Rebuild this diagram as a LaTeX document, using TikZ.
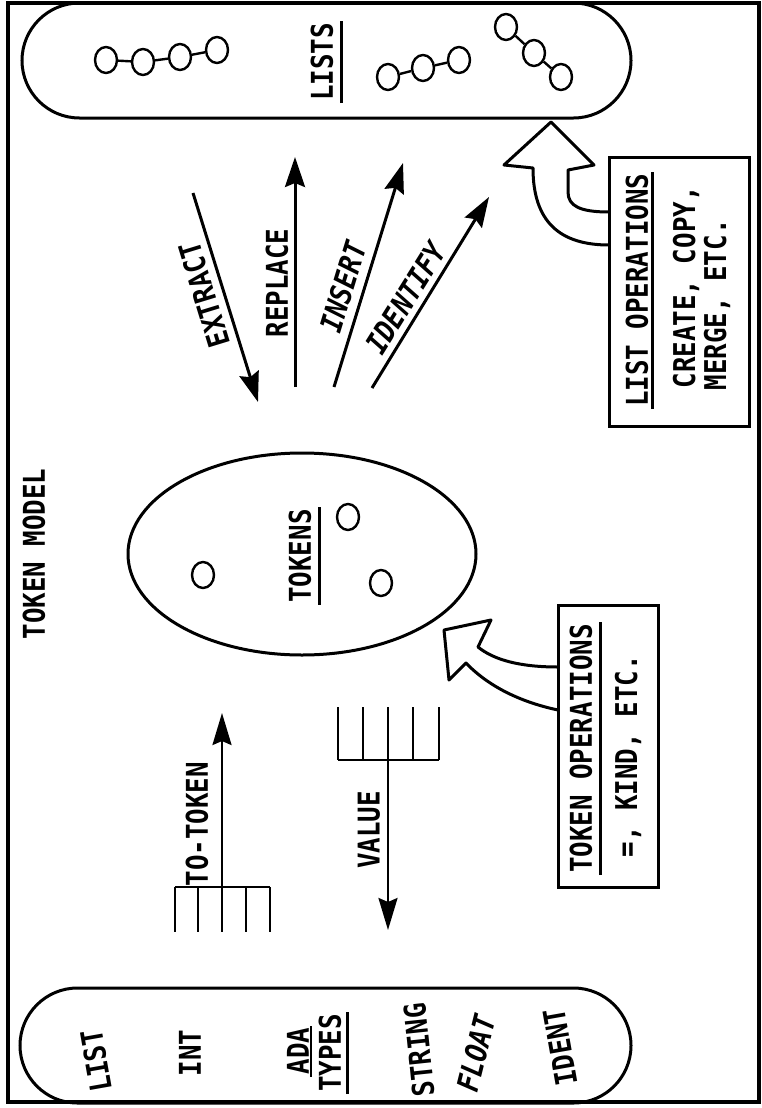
\documentclass[tikz,border=0pt]{standalone}
\usepackage{fontspec}
\usetikzlibrary{arrows.meta,shapes.geometric,shapes.misc}
\newfontfamily\letterfont{DejaVu Sans Mono}[FakeStretch=0.86]
\newcommand{\lettering}{\letterfont\bfseries\fontsize{30}{34}\selectfont}
\tikzset{
  frame/.style={draw=black, line width=3.4pt},
  pill/.style={draw=black, rounded rectangle, line width=3pt, inner sep=0pt},
  pool/.style={draw=black, ellipse, line width=3pt, inner sep=0pt},
  opsbox/.style={draw=black, line width=3pt, inner sep=0pt},
  bead/.style={draw=black, ellipse, line width=2.4pt, minimum width=22pt,
    minimum height=26pt, inner sep=0pt},
  link/.style={line width=2.4pt},
  lbl/.style={font=\lettering, inner sep=0.5pt, rotate=#1},
  lbl/.default=90,
  heading/.style={lbl, inner xsep=2pt, inner ysep=8pt},
  uline/.style={line width=2.6pt},
  opsarrow/.style={-{Stealth[length=30pt,width=20pt,inset=4pt]}, line width=3pt},
  convarrow/.style={-{Stealth[length=32pt,width=19pt,inset=4pt]}, line width=2.5pt},
  comb/.style={line width=2.6pt},
  hollow/.style={draw=black, fill=white, line width=3pt, line join=round}
}
\begin{document}
\begin{tikzpicture}[x=1pt,y=-1pt]
  \useasboundingbox (0,0) rectangle (762,1108);
  \draw[frame] (8,3) rectangle (759,1102);
  \node[lbl] (modeltitle) at (34,554) {TOKEN MODEL};

  % lists
  \node[pill, minimum width=609pt, minimum height=115pt] (lists) at (326.5,60.5) {};
  \node[bead] (la1) at (106,60) {};
  \node[bead] (la2) at (143,62) {};
  \node[bead] (la3) at (180,57) {};
  \node[bead] (la4) at (217,50) {};
  \draw[link] (la1) -- (la2) -- (la3) -- (la4);
  \node[bead] (lb1) at (388,77) {};
  \node[bead] (lb2) at (423,68) {};
  \node[bead] (lb3) at (459,60) {};
  \draw[link] (lb1) -- (lb2) -- (lb3);
  \node[bead] (lc1) at (506,27) {};
  \node[bead] (lc2) at (534,53) {};
  \node[bead] (lc3) at (561,77) {};
  \draw[link] (lc1) -- (lc2) -- (lc3);
  \node[heading] (liststitle) at (322,62) {LISTS};
  \draw[uline] (liststitle.south west) -- (liststitle.south east);

  % tokens
  \node[pool, minimum width=348pt, minimum height=202pt] (tokenpool) at (302,554) {};
  \node[bead] (tk1) at (203,575) {};
  \node[bead] (tk2) at (348,517) {};
  \node[bead] (tk3) at (381,583) {};
  \node[heading] (tokenstitle) at (300,556) {TOKENS};
  \draw[uline] (tokenstitle.south west) -- (tokenstitle.south east);

  % list access
  \coordinate (extract-a) at (193,193);
  \coordinate (extract-b) at (258,402);
  \coordinate (replace-a) at (295,387);
  \coordinate (replace-b) at (295,157);
  \coordinate (insert-a) at (334,387);
  \coordinate (insert-b) at (403,163);
  \coordinate (identify-a) at (372,388);
  \coordinate (identify-b) at (489,197);
  \draw[opsarrow] (extract-a) -- (extract-b);
  \draw[opsarrow] (replace-a) -- (replace-b);
  \draw[opsarrow] (insert-a) -- (insert-b);
  \draw[opsarrow] (identify-a) -- (identify-b);
  \node[lbl=107] (extractlbl) at (204,295) {EXTRACT};
  \node[lbl] (replacelbl) at (277,283) {REPLACE};
  \node[lbl=73] (insertlbl) at (343,287) {\itshape INSERT};
  \node[lbl=58] (identifylbl) at (406,298) {\itshape IDENTIFY};

  % list operations
  \draw[hollow] (609,245) .. controls (560,245) and (533,222) .. (533,168)
    -- (504,165) -- (551,122) -- (594,165) -- (568,170) -- (568,192)
    .. controls (568,206) and (580,212) .. (609,212);
  \node[opsbox, minimum width=140pt, minimum height=269pt] (lopsbox) at (679,291.5) {};
  \node[heading, inner ysep=4pt, anchor=west] (lopstitle) at (637,409) {LIST OPERATIONS};
  \draw[uline] (lopstitle.south west) -- (lopstitle.south east);
  \node[lbl, anchor=west] (lopsline1) at (686,389) {CREATE, COPY,};
  \node[lbl, anchor=west] (lopsline2) at (717,391) {MERGE, ETC.};

  % token operations
  \draw[hollow] (558,710) .. controls (520,702) and (488,686) .. (466,663)
    -- (449,680) -- (444,630) -- (491,620) -- (478,647)
    .. controls (494,660) and (520,667) .. (558,667);
  \node[opsbox, minimum width=100pt, minimum height=282pt] (topsbox) at (608,746) {};
  \node[heading, anchor=west] (topstitle) at (581,875) {TOKEN OPERATIONS};
  \draw[uline] (topstitle.south west) -- (topstitle.south east);
  \node[lbl, anchor=west] (topsline) at (628,858) {=, KIND, ETC.};

  % conversions
  \foreach \tx in {175,198,222,246,270}
    \draw[comb] (\tx,887) -- (\tx,932);
  \draw[comb] (175,887) -- (270,887);
  \coordinate (tobase) at (222,887);
  \coordinate (totip) at (222,713);
  \draw[convarrow] (tobase) -- (totip);
  \node[lbl, anchor=west] (totokenlbl) at (197,887) {TO-TOKEN};
  \foreach \tx in {338,363,388,413,439}
    \draw[comb] (\tx,707) -- (\tx,760);
  \draw[comb] (338,760) -- (439,760);
  \coordinate (valbase) at (388,760);
  \coordinate (valtip) at (388,930);
  \draw[convarrow] (valbase) -- (valtip);
  \node[lbl] (valuelbl) at (369,830) {VALUE};

  % ada types
  \node[pill, minimum width=611pt, minimum height=115pt] (adatypes) at (325.5,1045.5) {};
  \node[lbl=100] (tlist) at (96,1061) {LIST};
  \node[lbl] (tint) at (190,1053) {INT};
  \node[heading, inner ysep=2pt] (tada) at (298,1051) {ADA};
  \draw[uline] (tada.south west) -- (tada.south east);
  \node[heading, inner ysep=6pt] (ttypes) at (330,1053) {TYPES};
  \draw[uline] (ttypes.south west) -- (ttypes.south east);
  \node[lbl=96] (tstring) at (419,1050) {STRING};
  \node[lbl=76] (tfloat) at (476,1053) {\itshape FLOAT};
  \node[lbl=100] (tident) at (560,1047) {IDENT};
\end{tikzpicture}
\end{document}
